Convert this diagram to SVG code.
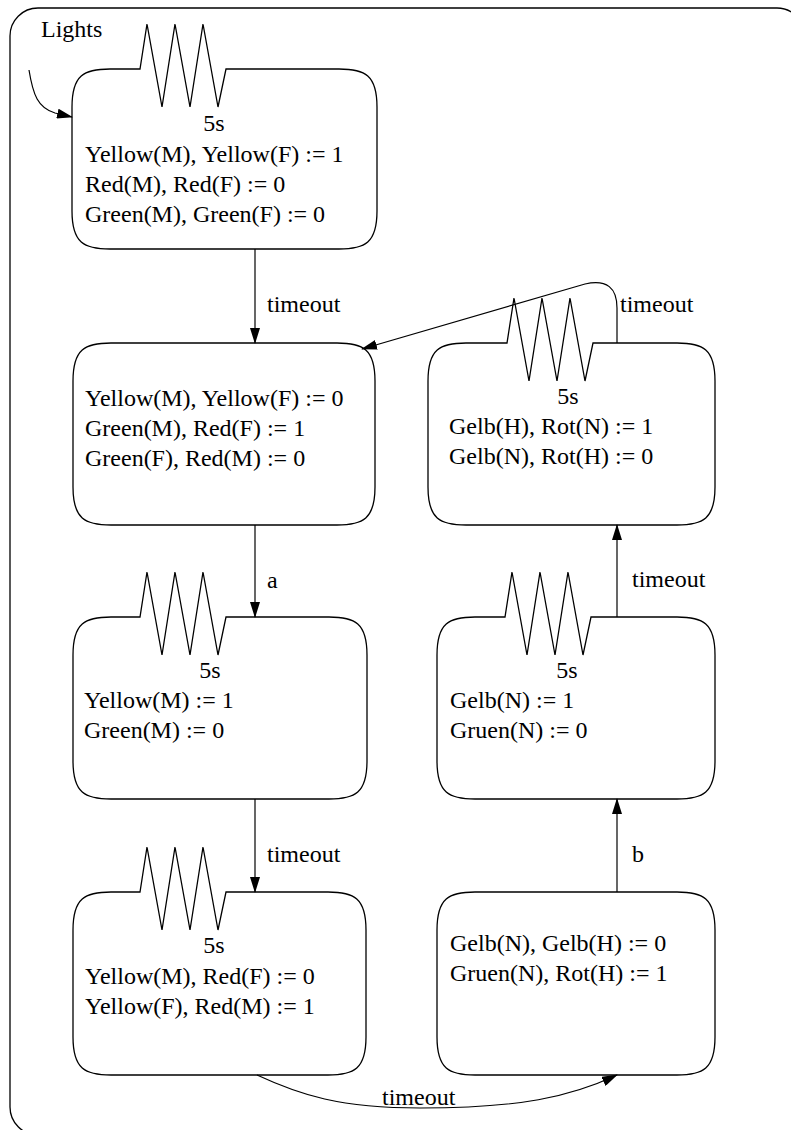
<svg xmlns="http://www.w3.org/2000/svg" width="791" height="1130" viewBox="0 0 791 1130">
<style>
.st{fill:none;stroke:#000;stroke-width:1.3}
.cn{fill:none;stroke:#000;stroke-width:1.2}
text{font-family:"Liberation Serif","Times New Roman",serif;font-size:24px;fill:#000}
</style>
<defs>
<marker id="ah" markerWidth="16" markerHeight="10" refX="15" refY="5" orient="auto" markerUnits="userSpaceOnUse">
<path d="M0,0 L16,5 L0,10 Z" fill="#000"/>
</marker>
</defs>
<rect width="791" height="1130" fill="#fff"/>
<g id="frame">
<rect x="10" y="8" width="795" height="1127" rx="28" ry="28" class="st"/>
<text x="41" y="37">Lights</text>
</g>
<g id="n1">
<path class="st" d="M110,69 L140,69 L147,24 L162,107 L175,24 L190,107 L203,24 L218,107 L226,69 L339,69 C365,69 377,75 377,107 L377,211 C377,243 365,249 339,249 L110,249 C84,249 72,243 72,211 L72,107 C72,75 84,69 110,69 Z"/>
<text x="214" y="131" text-anchor="middle">5s</text>
<text x="85" y="162">Yellow(M), Yellow(F) := 1</text>
<text x="85" y="192">Red(M), Red(F) := 0</text>
<text x="85" y="222">Green(M), Green(F) := 0</text>
</g>
<g id="n2">
<path class="st" d="M111,343 L337,343 C363,343 375,349 375,381 L375,487 C375,519 363,525 337,525 L111,525 C85,525 73,519 73,487 L73,381 C73,349 85,343 111,343 Z"/>
<text x="85" y="406">Yellow(M), Yellow(F) := 0</text>
<text x="85" y="436">Green(M), Red(F) := 1</text>
<text x="85" y="466">Green(F), Red(M) := 0</text>
</g>
<g id="n3">
<path class="st" d="M111,617 L140,617 L147,572 L162,655 L175,572 L190,655 L203,572 L218,655 L226,617 L329,617 C355,617 367,623 367,655 L367,761 C367,793 355,799 329,799 L111,799 C85,799 73,793 73,761 L73,655 C73,623 85,617 111,617 Z"/>
<text x="210" y="678" text-anchor="middle">5s</text>
<text x="84" y="708">Yellow(M) := 1</text>
<text x="84" y="738">Green(M) := 0</text>
</g>
<g id="n4">
<path class="st" d="M111,892 L140,892 L147,847 L162,930 L175,847 L190,930 L203,847 L218,930 L226,892 L328,892 C354,892 366,898 366,930 L366,1037 C366,1069 354,1075 328,1075 L111,1075 C85,1075 73,1069 73,1037 L73,930 C73,898 85,892 111,892 Z"/>
<text x="214" y="953" text-anchor="middle">5s</text>
<text x="85" y="984">Yellow(M), Red(F) := 0</text>
<text x="85" y="1014">Yellow(F), Red(M) := 1</text>
</g>
<g id="n5">
<path class="st" d="M466,343 L507,343 L514,298 L529,381 L542,298 L557,381 L570,298 L585,381 L593,343 L677,343 C703,343 715,349 715,381 L715,487 C715,519 703,525 677,525 L466,525 C440,525 428,519 428,487 L428,381 C428,349 440,343 466,343 Z"/>
<text x="568" y="404" text-anchor="middle">5s</text>
<text x="449" y="434">Gelb(H), Rot(N) := 1</text>
<text x="449" y="464">Gelb(N), Rot(H) := 0</text>
</g>
<g id="n6">
<path class="st" d="M475,617 L505,617 L512,572 L527,655 L540,572 L555,655 L568,572 L583,655 L591,617 L677,617 C703,617 715,623 715,655 L715,761 C715,793 703,799 677,799 L475,799 C449,799 437,793 437,761 L437,655 C437,623 449,617 475,617 Z"/>
<text x="567" y="678" text-anchor="middle">5s</text>
<text x="450" y="708">Gelb(N) := 1</text>
<text x="450" y="738">Gruen(N) := 0</text>
</g>
<g id="n7">
<path class="st" d="M475,892 L677,892 C703,892 715,898 715,930 L715,1037 C715,1069 703,1075 677,1075 L475,1075 C449,1075 437,1069 437,1037 L437,930 C437,898 449,892 475,892 Z"/>
<text x="450" y="951">Gelb(N), Gelb(H) := 0</text>
<text x="450" y="981">Gruen(N), Rot(H) := 1</text>
</g>
<g id="connectors">
<path class="cn" d="M29,70 C33,95 38,108 55,113 L72,117" marker-end="url(#ah)"/>
<path class="cn" d="M255,249 L255,343" marker-end="url(#ah)"/>
<text x="267" y="312">timeout</text>
<path class="cn" d="M255,525 L255,617" marker-end="url(#ah)"/>
<text x="267" y="588">a</text>
<path class="cn" d="M255,799 L255,892" marker-end="url(#ah)"/>
<text x="267" y="862">timeout</text>
<path class="cn" d="M257,1075 C300,1095 340,1108 420,1108 C520,1108 570,1097 617,1075" marker-end="url(#ah)"/>
<text x="382" y="1105">timeout</text>
<path class="cn" d="M617,892 L617,799" marker-end="url(#ah)"/>
<text x="632" y="862">b</text>
<path class="cn" d="M617,617 L617,525" marker-end="url(#ah)"/>
<text x="632" y="587">timeout</text>
<path class="cn" d="M617,343 L617,308 C617,288 607,279 585,284 L362,349" marker-end="url(#ah)"/>
<text x="620" y="312">timeout</text>
</g>
</svg>
